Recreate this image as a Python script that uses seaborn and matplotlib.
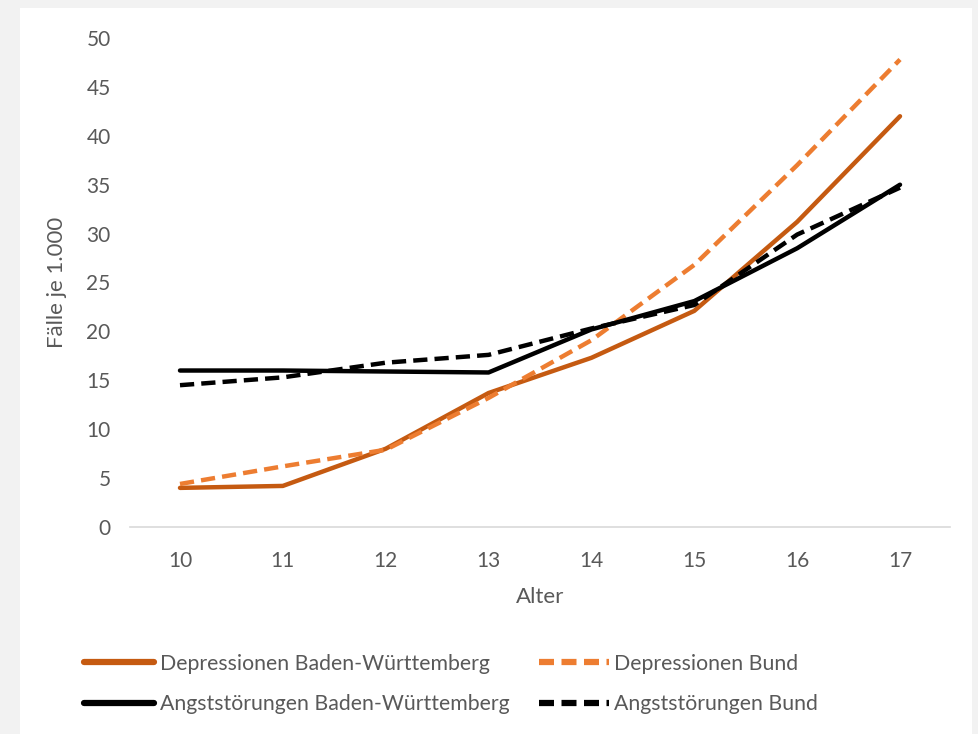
import matplotlib
matplotlib.use("Agg")
import matplotlib.pyplot as plt
import matplotlib.patches as mpatches
from matplotlib.lines import Line2D
import seaborn as sns
import pandas as pd

# Age groups and rates per 1,000 children
alter = [10, 11, 12, 13, 14, 15, 16, 17]
depr_bw = [4.0, 4.2, 8.0, 13.7, 17.3, 22.1, 31.2, 42.0]
depr_bund = [4.4, 6.2, 7.9, 13.2, 19.1, 26.8, 37.0, 47.8]
angst_bw = [16.0, 16.0, 15.9, 15.8, 20.2, 23.1, 28.5, 35.0]
angst_bund = [14.5, 15.3, 16.8, 17.6, 20.3, 22.7, 29.9, 34.7]

series_names = [
    "Depressionen Baden-Württemberg",
    "Depressionen Bund",
    "Angststörungen Baden-Württemberg",
    "Angststörungen Bund",
]
series_values = [depr_bw, depr_bund, angst_bw, angst_bund]
colors = ["#C55A11", "#ED7D31", "#000000", "#000000"]
dashed = [False, True, False, True]

sns.set_theme(style="white")
plt.rcParams["font.family"] = ["Liberation Sans Narrow", "Lato", "DejaVu Sans"]
text_color = "#595959"

frames = []
for name, vals in zip(series_names, series_values):
    frames.append(pd.DataFrame({"Alter": alter, "Wert": vals, "Reihe": name}))
df = pd.concat(frames, ignore_index=True)

fig = plt.figure(figsize=(9.79, 7.34), dpi=100, facecolor="#F2F2F2")
# white chart area inside the grey frame
fig.patches.append(mpatches.Rectangle((20 / 979, 0), (972 - 20) / 979, 1 - 8 / 734,
                                      transform=fig.transFigure, facecolor="white",
                                      edgecolor="none", zorder=-10))

ax = fig.add_axes([130 / 979, 1 - 527 / 734, (950 - 130) / 979, (527 - 38) / 734])
ax.set_zorder(1)
ax.set_facecolor("none")

handles = []
for name, col, dsh in zip(series_names, colors, dashed):
    sub = df[df["Reihe"] == name]
    sns.lineplot(data=sub, x="Alter", y="Wert", ax=ax, color=col, linewidth=3.2,
                 legend=False, zorder=3)
    line = ax.lines[-1]
    line.set_solid_capstyle("round")
    if dsh:
        line.set_dashes((3.2, 1.6))
        line.set_dash_capstyle("butt")
    h = Line2D([], [], color=col, linewidth=4.5,
               linestyle=(0, (2.4, 1.2)) if dsh else "-",
               solid_capstyle="round", dash_capstyle="butt")
    handles.append(h)

ax.set_xlim(9.514, 17.486)
ax.set_ylim(0, 50)
ax.set_xticks(alter)
ax.set_xticklabels([str(a) for a in alter])
ax.set_yticks(range(0, 51, 5))

for side in ["top", "right", "left"]:
    ax.spines[side].set_visible(False)
ax.spines["bottom"].set_color("#D9D9D9")
ax.spines["bottom"].set_linewidth(1.2)
ax.tick_params(axis="both", length=0, labelsize=15, colors=text_color)
ax.tick_params(axis="x", pad=17)
ax.tick_params(axis="y", pad=14)

ax.set_xlabel("Alter", fontsize=16, color=text_color, labelpad=12)
ax.set_ylabel("Fälle je 1.000", fontsize=16, color=text_color, labelpad=14)

# legend filled row by row
order = [0, 2, 1, 3]
leg = fig.legend([handles[i] for i in order], [series_names[i] for i in order],
                 loc="center left", bbox_to_anchor=(65 / 979, 1 - 684 / 734), ncol=2,
                 frameon=False, fontsize=15.3, handlelength=3.3,
                 handletextpad=0.25, columnspacing=1.4, labelspacing=0.95,
                 labelcolor=text_color)

fig.savefig("out.png", dpi=100, facecolor=fig.get_facecolor())
